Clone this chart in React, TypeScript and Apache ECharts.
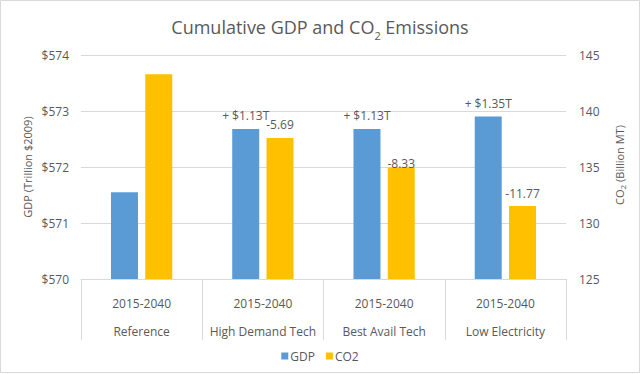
import React, { useEffect, useRef } from "react";
import * as echarts from "echarts";

const categories = ["Reference", "High Demand Tech", "Best Avail Tech", "Low Electricity"];
const periodLabel = "2015-2040";
const gdpValues = [571.55, 572.68, 572.68, 572.9];
const co2Values = [143.28, 137.59, 134.95, 131.51];
const gdpLabels = ["", "+ $1.13T", "+ $1.13T", "+ $1.35T"];
const co2Labels = ["", "-5.69", "-8.33", "-11.77"];
const gdpTicks = { min: 570, max: 574, interval: 1 };
const co2Ticks = { min: 125, max: 145, interval: 5 };

const FONT = "'Open Sans', sans-serif";
const TXT = "#595959";
const GRID = "#d9d9d9";

export default function App() {
  const ref = useRef<HTMLDivElement>(null);
  useEffect(() => {
    if (!ref.current) return;
    const chart = echarts.init(ref.current, null, { renderer: "svg" });
    const co2Items = co2Values.map((v, i) => {
      const item: any = { value: v };
      if (i === 2) item.label = { distance: -2 };
      return item;
    });
    chart.setOption({
      animation: false,
      textStyle: { fontFamily: FONT },
      title: {
        text: "{n|Cumulative GDP and CO}{s|2}{n| Emissions}",
        left: "center",
        top: 8,
        textStyle: {
          fontWeight: "normal",
          rich: {
            n: { fontFamily: FONT, fontSize: 18, fontWeight: "normal", color: TXT, lineHeight: 28, verticalAlign: "middle" },
            s: { fontFamily: FONT, fontSize: 11, fontWeight: "normal", color: TXT, lineHeight: 11, verticalAlign: "bottom" },
          },
        },
      },
      legend: {
        data: ["GDP", "CO2"],
        left: "center",
        top: 345,
        icon: "rect",
        itemWidth: 7,
        itemHeight: 7,
        itemGap: 11,
        textStyle: { fontFamily: FONT, fontSize: 12, color: TXT, padding: [0, 0, 0, -3] },
      },
      grid: { left: 81, right: 74, top: 55, bottom: 95, containLabel: false },
      xAxis: {
        type: "category",
        data: categories,
        boundaryGap: true,
        axisLine: { show: true, lineStyle: { color: GRID, width: 1 } },
        axisTick: { show: true, interval: 0, length: 61, lineStyle: { color: GRID } },
        axisLabel: {
          interval: 0,
          margin: 10,
          formatter: (v: string) => `{a|${periodLabel}}\n{b|${v}}`,
          rich: {
            a: { fontFamily: FONT, fontSize: 12, color: TXT, lineHeight: 28 },
            b: { fontFamily: FONT, fontSize: 12, color: TXT, lineHeight: 28 },
          },
        },
      },
      yAxis: [
        {
          type: "value",
          ...gdpTicks,
          axisLine: { show: false },
          axisTick: { show: false },
          splitLine: { show: true, lineStyle: { color: GRID } },
          axisLabel: {
            margin: 12,
            fontFamily: FONT,
            fontSize: 12,
            color: TXT,
            formatter: (v: number) => "$" + v,
          },
        },
        {
          type: "value",
          ...co2Ticks,
          axisLine: { show: false },
          axisTick: { show: false },
          splitLine: { show: false },
          axisLabel: { margin: 13, fontFamily: FONT, fontSize: 12, color: TXT },
        },
      ],
      graphic: [
        {
          type: "rect",
          shape: { x: 0.5, y: 0.5, width: 639, height: 372 },
          style: { fill: "none", stroke: GRID, lineWidth: 1 },
          silent: true,
        },
        {
          type: "text",
          x: 27,
          y: 167,
          rotation: Math.PI / 2,
          style: {
            text: "GDP (Trillion $2009)",
            fontFamily: FONT,
            fontSize: 11,
            fill: TXT,
            align: "center",
            verticalAlign: "middle",
          },
        },
        {
          type: "text",
          x: 619,
          y: 165,
          rotation: Math.PI / 2,
          style: {
            text: "{n|CO}{s|2}{n| (Billion MT)}",
            align: "center",
            verticalAlign: "middle",
            rich: {
              n: { fontFamily: FONT, fontSize: 11, fill: TXT, lineHeight: 15, verticalAlign: "middle" },
              s: { fontFamily: FONT, fontSize: 8, fill: TXT, lineHeight: 8, verticalAlign: "bottom" },
            },
          },
        },
      ],
      series: [
        {
          name: "GDP",
          type: "bar",
          yAxisIndex: 0,
          data: gdpValues,
          barWidth: 27,
          barGap: "27%",
          itemStyle: { color: "#5b9bd5" },
          label: {
            show: true,
            position: "top",
            distance: 7,
            fontFamily: FONT,
            fontSize: 12,
            color: TXT,
            formatter: (p: any) => gdpLabels[p.dataIndex],
          },
        },
        {
          name: "CO2",
          type: "bar",
          yAxisIndex: 1,
          data: co2Items,
          barWidth: 27,
          barGap: "27%",
          itemStyle: { color: "#ffc000" },
          label: {
            show: true,
            position: "top",
            distance: 7,
            fontFamily: FONT,
            fontSize: 12,
            color: TXT,
            formatter: (p: any) => co2Labels[p.dataIndex],
          },
        },
      ],
    });
    return () => chart.dispose();
  }, []);
  return (
    <div
      style={{ position: "fixed", left: 0, top: 0, width: 640, height: 374, background: "#fff" }}
    >
      <div ref={ref} style={{ width: 640, height: 374 }} />
    </div>
  );
}
